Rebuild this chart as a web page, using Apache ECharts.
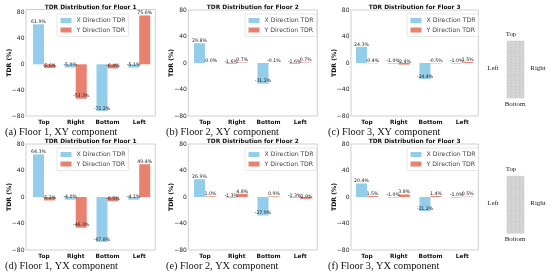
<!DOCTYPE html>
<html><head><meta charset="utf-8">
<style>html,body{margin:0;padding:0;background:#fff}#c{width:550px;height:274px}</style>
<script src="https://cdn.jsdelivr.net/npm/echarts@6/dist/echarts.min.js"></script>
</head><body><div id="c"></div>
<script>
const categories = ['Top','Right','Bottom','Left'];
const xA = [61.9,-5.0,-72.2,-5.1], yA = [-5.6,-53.3,-6.4,75.6];
const xB = [29.8,-1.6,-31.2,-1.6], yB = [-0.04,0.7,-0.1,0.7];
const xC = [24.3,-1.0,-24.4,-1.0], yC = [-0.4,-2.4,-0.5,1.5];
const xD = [64.3,-4.0,-67.8,-4.1], yD = [-5.2,-46.3,-6.5,49.4];
const xE = [26.9,-1.3,-27.9,-1.3], yE = [1.0,4.8,0.9,-2.9];
const xF = [20.4,-1.0,-21.2,-1.0], yF = [1.5,3.8,1.4,0.5];
const panels = [
 {floor:1,cap:'(a) Floor 1, XY component',x:xA,y:yA,sl:26,sr:155.3,l:28.1,t:9.5,h:106.5,max:84.8,capX:5,leg:57},
 {floor:2,cap:'(b) Floor 2, XY component',x:xB,y:yB,sl:188.3,sr:317.3,l:189.1,t:10,h:106,max:80,capX:166,leg:245},
 {floor:3,cap:'(c) Floor 3, XY component',x:xC,y:yC,sl:351,sr:478.3,l:351.1,t:10,h:106,max:80,capX:328,leg:407},
 {floor:1,cap:'(d) Floor 1, YX component',x:xD,y:yD,sl:26,sr:155.3,l:28.1,t:144,h:106,max:80,capX:5,leg:57},
 {floor:2,cap:'(e) Floor 2, YX component',x:xE,y:yE,sl:188.3,sr:317.3,l:189.1,t:144,h:106,max:80,capX:166,leg:245},
 {floor:3,cap:'(f) Floor 3, YX component',x:xF,y:yF,sl:351,sr:478.3,l:351.1,t:144,h:106,max:80,capX:328,leg:407}
];
const W = 127, F = '"DejaVu Sans"', S = '"Liberation Serif"';
const blue = '#94CDEA', red = '#E9816F';
const fmt = v => (v<0 && v>-0.05 ? '-0.0' : v.toFixed(1)) + '%';
const pts = v => v.map(n => ({value:n,label:{position:n<0?'insideBottom':'top',distance:0}}));
const grids=[],xs=[],ys=[],series=[],legends=[],graphics=[];
panels.forEach((p,i)=>{
  const off = p.l - p.sl;
  grids.push({left:p.l,top:p.t,width:W,height:p.h,show:false});
  graphics.push({type:'rect',shape:{x:p.sl,y:p.t,width:p.sr-p.sl,height:p.h},style:{fill:'none',stroke:'#cfcfcf',lineWidth:1}});
  xs.push({type:'category',gridIndex:i,data:categories,axisLine:{show:false},axisTick:{show:false},splitLine:{show:false},
    axisLabel:{fontFamily:F,fontSize:5.8,fontWeight:'bold',color:'#111',margin:3,interval:0}});
  ys.push({type:'value',gridIndex:i,min:-80,max:p.max,interval:40,splitLine:{show:false},
    axisLine:{show:false},axisTick:{show:false},
    axisLabel:{fontFamily:F,fontSize:6,color:'#222',margin:1.5+off,showMaxLabel:p.max===80,
      formatter:v=>v<0?'\u2212'+(-v):''+v},
    name:'TDR (%)',nameLocation:'middle',nameGap:13.5+off,nameRotate:90,nameMoveOverlap:false,
    nameTextStyle:{fontFamily:F,fontSize:6.2,fontWeight:'bold',color:'#111'}});
  const lab={show:true,fontFamily:F,fontSize:4.7,color:'#222',formatter:o=>fmt(o.value)};
  series.push({type:'bar',name:'X Direction TDR',xAxisIndex:i,yAxisIndex:i,data:pts(p.x),barWidth:11,barGap:'0%',itemStyle:{color:blue},label:lab,animation:false});
  series.push({type:'bar',name:'Y Direction TDR',xAxisIndex:i,yAxisIndex:i,data:pts(p.y),barWidth:11,barGap:'0%',itemStyle:{color:red},label:lab,animation:false});
  graphics.push({type:'text',x:(p.sl+p.sr)/2,y:i<3?7:141,style:{text:'TDR Distribution for Floor '+p.floor,fontFamily:F,fontSize:5.9,fontWeight:'bold',fill:'#111',align:'center',verticalAlign:'middle'}});
  legends.push({data:['X Direction TDR','Y Direction TDR'],orient:'vertical',left:p.leg,top:i<3?14:148,itemWidth:11,itemHeight:5,itemGap:3.5,
    padding:[3.5,3,3.5,3.5],borderColor:'#ddd',borderWidth:0.7,borderRadius:1,backgroundColor:'#fff',selectedMode:false,
    textStyle:{fontFamily:F,fontSize:6.2,color:'#444'},icon:'rect'});
  graphics.push({type:'text',x:p.capX,y:i<3?132:266,style:{text:p.cap,fontFamily:S,fontSize:10.3,fill:'#111',verticalAlign:'middle'}});
});
[0,134].forEach(dy=>{
  const lift = dy? 1.3:0;
  graphics.push({type:'rect',shape:{x:507,y:41+dy+lift,width:17,height:57},style:{fill:'#d4d4d4',stroke:'#c4c4d4',lineWidth:0.5}});
  [0.25,0.5,0.75].forEach(f=>graphics.push({type:'line',shape:{x1:507+17*f,y1:41+dy+lift,x2:507+17*f,y2:98+dy+lift},style:{stroke:'#b0b0b0',lineWidth:0.5,lineDash:[1,2]}}));
  [0.2,0.4,0.6,0.8].forEach(f=>graphics.push({type:'line',shape:{x1:507,y1:41+dy+lift+57*f,x2:524,y2:41+dy+lift+57*f},style:{stroke:'#b0b0b0',lineWidth:0.5,lineDash:[1,2]}}));
  [['Top',511,34+lift],['Left',493,68+lift],['Right',538,68+lift],['Bottom',515,104+lift]].forEach(a=>{
    graphics.push({type:'text',x:a[1],y:a[2]+dy,style:{text:a[0],fontFamily:S,fontSize:6.9,fill:'#222',align:'center',verticalAlign:'middle'}});
  });
});
const chart = echarts.init(document.getElementById('c'),null,{renderer:'canvas'});
chart.setOption({animation:false,grid:grids,xAxis:xs,yAxis:ys,series,legend:legends,graphic:graphics});
</script></body></html>
